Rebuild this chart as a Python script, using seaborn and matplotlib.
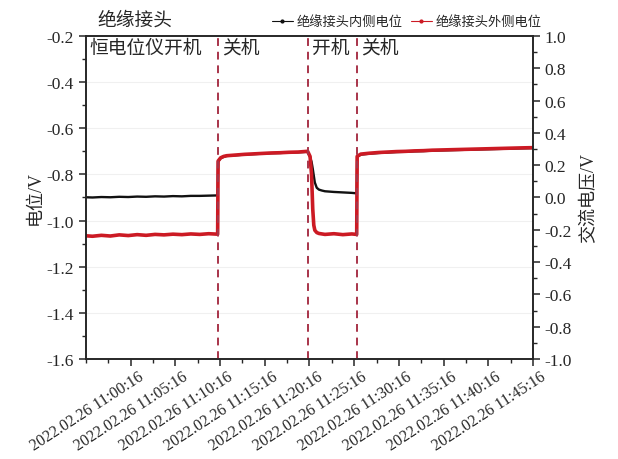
import matplotlib
matplotlib.use('Agg')
import matplotlib.pyplot as plt
import matplotlib.dates as mdates
import matplotlib.transforms as mtransforms
from matplotlib.ticker import MultipleLocator, AutoMinorLocator
import seaborn as sns
import pandas as pd

DAY = '2022-02-26 '

# sample times and potentials (V)
times = [
    '10:55:16', '10:56:00', '10:57:00', '10:58:00', '10:59:00', '11:00:00', '11:01:00', '11:02:00',
    '11:03:00', '11:04:00', '11:05:00', '11:06:00', '11:07:00', '11:08:00', '11:09:00', '11:10:00',
    '11:10:03', '11:10:20', '11:10:40', '11:11:00', '11:12:00', '11:13:00', '11:14:00', '11:15:00',
    '11:16:00', '11:17:00', '11:18:00', '11:19:00', '11:20:00',
    '11:20:04', '11:20:20', '11:20:30', '11:20:38', '11:20:45', '11:20:52', '11:21:05', '11:21:20',
    '11:21:40', '11:22:00', '11:23:00', '11:24:00', '11:25:00', '11:25:33',
    '11:25:36', '11:26:00', '11:27:00', '11:28:00', '11:29:00', '11:30:00', '11:31:00', '11:32:00',
    '11:33:00', '11:34:00', '11:35:00', '11:36:00', '11:37:00', '11:38:00', '11:39:00', '11:40:00',
    '11:41:00', '11:42:00', '11:43:00', '11:44:00', '11:45:16',
]
inner = [
    -0.899, -0.900, -0.898, -0.899, -0.897, -0.898, -0.896, -0.897,
    -0.895, -0.896, -0.894, -0.895, -0.893, -0.893, -0.892, -0.891,
    -0.744, -0.730, -0.724, -0.720, -0.717, -0.714, -0.712, -0.710,
    -0.708, -0.707, -0.705, -0.704, -0.702,
    -0.702, -0.725, -0.745, -0.775, -0.805, -0.835, -0.858, -0.866,
    -0.870, -0.873, -0.876, -0.878, -0.880, -0.882,
    -0.724, -0.714, -0.710, -0.707, -0.705, -0.703, -0.702, -0.700,
    -0.699, -0.697, -0.696, -0.695, -0.694, -0.693, -0.692, -0.691,
    -0.690, -0.689, -0.688, -0.687, -0.686,
]
outer = [
    -1.066, -1.068, -1.064, -1.067, -1.062, -1.065, -1.061, -1.064,
    -1.060, -1.062, -1.059, -1.061, -1.058, -1.060, -1.057, -1.059,
    -0.742, -0.728, -0.722, -0.719, -0.716, -0.713, -0.711, -0.709,
    -0.707, -0.706, -0.704, -0.703, -0.700,
    -0.700, -0.722, -0.800, -0.950, -1.020, -1.042, -1.052, -1.056,
    -1.058, -1.060, -1.057, -1.061, -1.058, -1.060,
    -0.722, -0.712, -0.708, -0.705, -0.703, -0.701, -0.700, -0.698,
    -0.697, -0.695, -0.694, -0.693, -0.692, -0.691, -0.690, -0.689,
    -0.688, -0.687, -0.686, -0.685, -0.684,
]

# rectifier on/off events
event_times = ['11:10:02', '11:20:04', '11:25:35']
event_labels = ['关机', '开机', '关机']
start_label = '恒电位仪开机'

xtick_times = ['11:00:16', '11:05:16', '11:10:16', '11:15:16', '11:20:16',
               '11:25:16', '11:30:16', '11:35:16', '11:40:16', '11:45:16']
x_start, x_end = '10:55:16', '11:45:16'

series_names = ['绝缘接头内侧电位', '绝缘接头外侧电位']

sns.set_style('ticks')
plt.rcParams['font.family'] = ['Liberation Serif', 'Noto Sans CJK SC']
plt.rcParams['axes.unicode_minus'] = False

df = pd.DataFrame({'time': pd.to_datetime([DAY + t for t in times]),
                   'inner': inner, 'outer': outer})

fig = plt.figure(figsize=(6.18, 4.6), dpi=100)
ax = fig.add_axes([0.139, 0.2174, 0.7235, 0.7022])

for y in [-1.4, -1.2, -1.0, -0.8, -0.6, -0.4]:
    ax.axhline(y, color='#f0f0f0', lw=0.8, zorder=0)

sns.lineplot(data=df, x='time', y='inner', ax=ax, color='#111111', lw=1.7,
             sort=False, estimator=None, label=series_names[0], legend=False)
sns.lineplot(data=df, x='time', y='outer', ax=ax, color='#cc1a24', lw=2.6,
             sort=False, estimator=None, label=series_names[1], legend=False)

ev = pd.to_datetime([DAY + t for t in event_times])
for t in ev:
    ax.axvline(t, color='#a8344a', lw=1.4, ls=(0, (4, 3)), zorder=3)

trans = mtransforms.blended_transform_factory(ax.transData, ax.transAxes)
off = mtransforms.ScaledTranslation(4 / 100, 0, fig.dpi_scale_trans)
ax.text(pd.Timestamp(DAY + x_start), 0.99, start_label, transform=trans + off,
        fontsize=13.5, va='top', ha='left')
for t, lab in zip(ev, event_labels):
    ax.text(t, 0.99, lab, transform=trans + off, fontsize=13.5, va='top', ha='left')

ax.set_xlim(pd.Timestamp(DAY + x_start), pd.Timestamp(DAY + x_end))
ax.set_ylim(-1.6, -0.2)
ax.yaxis.set_major_locator(MultipleLocator(0.2))
ax.yaxis.set_minor_locator(MultipleLocator(0.1))
ax.set_xticks(pd.to_datetime([DAY + t for t in xtick_times]))
ax.xaxis.set_major_formatter(mdates.DateFormatter('%Y.%m.%d %H:%M:%S'))
ax.xaxis.set_minor_locator(AutoMinorLocator(2))
ax.tick_params(axis='x', labelsize=11.5, rotation=33, direction='out', length=5, width=1.1, pad=2)
xoff = mtransforms.ScaledTranslation(7 / 100, 0, fig.dpi_scale_trans)
for lab in ax.get_xticklabels():
    lab.set_ha('right')
    lab.set_rotation_mode('anchor')
    lab.set_transform(lab.get_transform() + xoff)
ax.tick_params(axis='y', labelsize=12.5, direction='out', length=5, width=1.1)
ax.tick_params(which='minor', direction='out', length=3, width=1)
ax.set_xlabel('')
ax.set_ylabel('电位/V', fontsize=13, labelpad=2)
for s in ax.spines.values():
    s.set_linewidth(1.2)

ax2 = ax.twinx()
ax2.set_ylim(-1.0, 1.0)
ax2.yaxis.set_major_locator(MultipleLocator(0.2))
ax2.yaxis.set_minor_locator(MultipleLocator(0.1))
ax2.tick_params(axis='y', labelsize=12.5, direction='out', length=5, width=1.1)
ax2.tick_params(which='minor', direction='out', length=3, width=1)
ax2.set_ylabel('交流电压/V', fontsize=13, labelpad=6)
for s in ax2.spines.values():
    s.set_linewidth(1.2)

fig.text(0.157, 0.935, '绝缘接头', fontsize=13.5, ha='left', va='bottom')

h1 = plt.Line2D([], [], color='#111111', lw=0.8, marker='o', markersize=2)
h2 = plt.Line2D([], [], color='#cc1a24', lw=0.8, marker='o', markersize=2)
fig.legend([h1, h2], series_names, loc='lower right', bbox_to_anchor=(0.885, 0.925),
           ncol=2, frameon=False, fontsize=9.5, handlelength=1.6, handletextpad=0.3,
           columnspacing=0.6, borderaxespad=0)

fig.savefig('out.png', dpi=100)
